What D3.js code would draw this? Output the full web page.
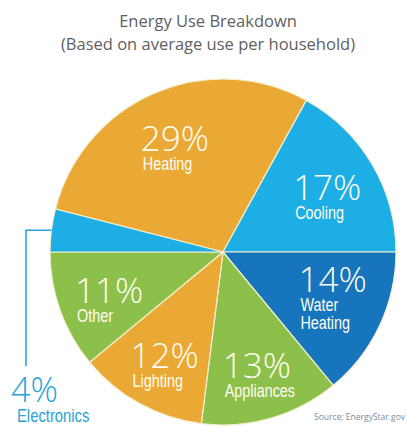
<!DOCTYPE html>
<html>
<head>
<meta charset="utf-8">
<script src="https://cdn.jsdelivr.net/npm/d3@7"></script>
<style>
  html, body { margin: 0; padding: 0; background: #fff; }
  svg { display: block; }
</style>
</head>
<body>
<svg width="407" height="427"></svg>
<script>
// data
var categories = ["Heating", "Cooling", "Water Heating", "Appliances", "Lighting", "Other", "Electronics"];
var values = [29, 17, 14, 13, 12, 11, 4];
var sliceColors = ["#eaa935", "#1caee4", "#1675bc", "#8dc04b", "#eaa935", "#8dc04b", "#1caee4"];
var nameLines = [["Heating"], ["Cooling"], ["Water", "Heating"], ["Appliances"], ["Lighting"], ["Other"], ["Electronics"]];
var titleLines = ["Energy Use Breakdown", "(Based on average use per household)"];
var source = "Source: EnergyStar.gov";

var svg = d3.select("svg"),
    width = +svg.attr("width"),
    height = +svg.attr("height");

var cx = 223, cy = 252, radius = 173;
var narrow = "'Liberation Sans', Arial, sans-serif";

var data = categories.map(function (c, i) {
    return { name: c, value: values[i], color: sliceColors[i], lines: nameLines[i] };
});

// title
svg.append("g").selectAll("text")
    .data(titleLines)
    .enter().append("text")
    .attr("x", 208)
    .attr("y", function (d, i) { return 27 + i * 23; })
    .attr("text-anchor", "middle")
    .style("font-family", "'Open Sans', sans-serif")
    .style("font-size", "16.5px")
    .style("fill", "#5f5f5f")
    .text(function (d) { return d; });

var pie = d3.pie()
    .sort(null)
    .value(function (d) { return d.value; })
    .startAngle(-75.6 * Math.PI / 180)
    .endAngle((360 - 75.6) * Math.PI / 180);

var arc = d3.arc().innerRadius(0).outerRadius(radius);
var labelArc = d3.arc().innerRadius(radius * 0.7).outerRadius(radius * 0.7);

var g = svg.append("g").attr("transform", "translate(" + cx + "," + cy + ")");

var arcs = pie(data);

g.selectAll("path")
    .data(arcs)
    .enter().append("path")
    .attr("d", arc)
    .style("fill", function (d) { return d.data.color; })
    .style("stroke", "#f4f0cf")
    .style("stroke-width", 1.2);

// squeezed text, standing in for a condensed face
function narrowText(sel, x, y, size) {
    return sel.append("text")
        .attr("transform", "translate(" + x + "," + y + ") scale(0.8,1)")
        .style("font-family", narrow)
        .style("font-size", size + "px");
}

// in-slice labels
var inside = arcs.filter(function (d) { return d.data.name !== "Electronics"; });

var lab = g.selectAll(".lab")
    .data(inside)
    .enter().append("g")
    .attr("class", "lab");

lab.each(function (d) {
    var c = labelArc.centroid(d);
    var n = d.data.lines.length;
    var pb = c[1] + 10 - (n - 1) * 22;
    var self = d3.select(this);
    var pct = self.append("text")
        .attr("x", c[0])
        .attr("y", pb)
        .attr("text-anchor", "middle")
        .style("font-family", "'Open Sans', sans-serif")
        .style("font-weight", 300)
        .style("font-size", "35px")
        .style("fill", "#fffdf2")
        .text(d.data.value + "%");
    var w = pct.node().getComputedTextLength();
    d.data.lines.forEach(function (t, i) {
        narrowText(self, c[0] - w / 2 + 2, pb + 19 + i * 18, 18)
            .style("fill", "#fffdf2")
            .text(t);
    });
});

// electronics callout
var elec = arcs.filter(function (d) { return d.data.name === "Electronics"; })[0];
var mid = (elec.startAngle + elec.endAngle) / 2;
var ex = cx + radius * Math.sin(mid),
    ey = cy - radius * Math.cos(mid);
var lineX = cx - radius - 24;

svg.append("path")
    .attr("d", "M" + ex + "," + ey + "H" + lineX + "V" + 366)
    .style("fill", "none")
    .style("stroke", "#2aa3d9")
    .style("stroke-width", 1.6);

svg.append("text")
    .attr("x", lineX - 15)
    .attr("y", 402)
    .style("font-family", "'Open Sans', sans-serif")
    .style("font-weight", 300)
    .style("font-size", "34px")
    .style("fill", "#2aa3d9")
    .text(elec.data.value + "%");

narrowText(svg, lineX - 9, 422, 18.5)
    .style("fill", "#2aa3d9")
    .text(elec.data.name);

svg.append("text")
    .attr("x", 405)
    .attr("y", 420)
    .attr("text-anchor", "end")
    .style("font-family", "'Open Sans', sans-serif")
    .style("font-size", "8.5px")
    .style("fill", "#7d8c9c")
    .text(source);
</script>
</body>
</html>
